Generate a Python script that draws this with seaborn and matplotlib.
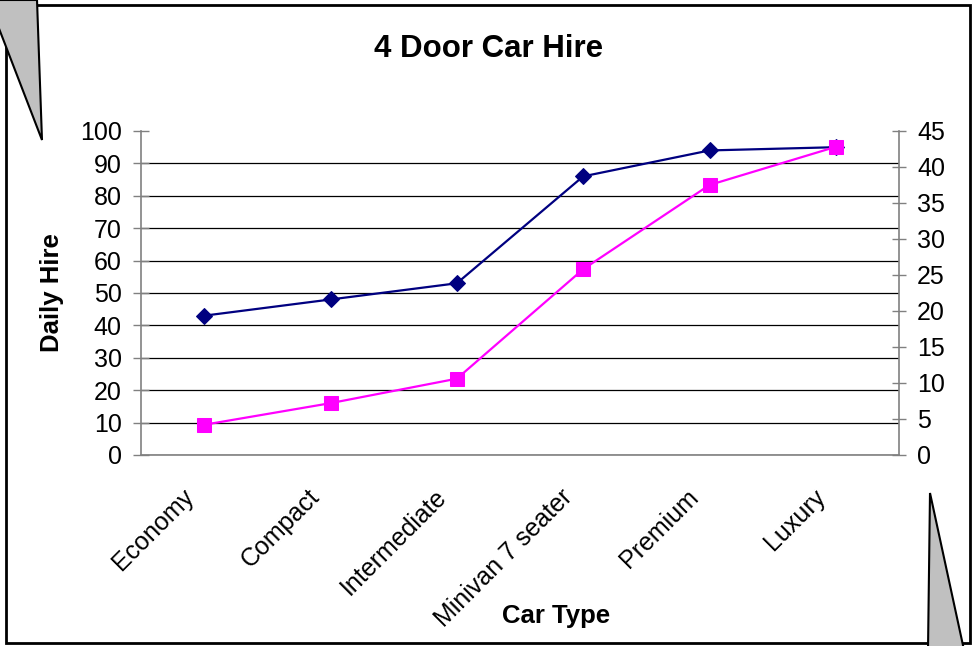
import numpy as np
import seaborn as sns
import matplotlib.pyplot as plt
from matplotlib.patches import Polygon, Rectangle
from matplotlib.transforms import ScaledTranslation

# chart data
car_types = ["Economy", "Compact", "Intermediate", "Minivan 7 seater", "Premium", "Luxury"]
daily_hire = [43, 48, 53, 86, 94, 95]
second_series = [4.2, 7.2, 10.6, 25.8, 37.5, 42.8]
left_ticks = list(range(0, 101, 10))
right_ticks = list(range(0, 46, 5))

sns.set_style("white")
plt.rcParams['font.family'] = ['Liberation Sans', 'DejaVu Sans']
plt.rcParams['text.color'] = 'black'
plt.rcParams['axes.labelcolor'] = 'black'
plt.rcParams['xtick.labelcolor'] = 'black'
plt.rcParams['ytick.labelcolor'] = 'black'

W, H = 973, 646
fig = plt.figure(figsize=(W / 100, H / 100), dpi=100)

def px(x, y):
    # pixel coords (from top-left) -> figure fraction
    return (x / W, 1 - y / H)

ax = fig.add_axes([141 / W, 1 - 455 / H, (899 - 141) / W, (455 - 131) / H])
ax2 = ax.twinx()

pos = np.arange(len(car_types))
sns.lineplot(x=pos, y=daily_hire, ax=ax, color="#000080", marker="D", markersize=8,
             markeredgecolor="#000080", linewidth=1.6, sort=False, zorder=5)
sns.lineplot(x=pos, y=second_series, ax=ax2, color="#FF00FF", marker="s", markersize=10,
             markeredgecolor="#FF00FF", linewidth=1.6, sort=False, zorder=5)

ax.set_xlim(-0.5, len(car_types) - 0.5)
ax.set_ylim(0, 100)
ax2.set_ylim(0, 45)
ax.set_yticks(left_ticks)
ax2.set_yticks(right_ticks)

# gridlines on the left scale, none on the top value
ax.yaxis.grid(True, color="black", linewidth=0.9)
ax.get_ygridlines()[-1].set_visible(False)
ax.set_axisbelow(True)

# category labels at centres, tick marks between categories
ax.set_xticks(pos)
ax.set_xticklabels(car_types, rotation=45, ha="right", rotation_mode="anchor", fontsize=18)
ax.set_xticks(np.arange(-0.5, len(car_types)), minor=True)
ax.tick_params(axis="x", which="major", length=0, pad=14)
ax.tick_params(axis="x", which="minor", direction="out", length=8, width=1, color="#808080")
ax.tick_params(axis="y", direction="inout", length=11, width=1, color="#808080",
               labelsize=18, pad=8.5)
ax2.tick_params(axis="y", direction="inout", length=10, width=1, color="#808080",
                labelsize=18, pad=8)

for a in (ax, ax2):
    a.spines["top"].set_visible(False)
    for s in ("left", "right", "bottom"):
        a.spines[s].set_color("#808080")
        a.spines[s].set_linewidth(1.2)
ax.spines["right"].set_visible(False)
ax2.spines["left"].set_visible(False)
ax2.spines["bottom"].set_visible(False)
ax2.grid(False)

ax.set_ylabel("Daily Hire", fontsize=18.5, fontweight="bold")
ax.yaxis.set_label_coords((64 - 141) / 758, 0.5)
ax.set_xlabel("Car Type", fontsize=18.5, fontweight="bold")
ax.xaxis.set_label_coords((556 - 141) / 758, (455 - 616) / 324)
ax.xaxis.label.set_va("center")

fig.text(*px(489, 57), "4 Door Car Hire", fontsize=22.5, fontweight="bold",
         ha="center", va="baseline")

# outer frame and the two grey callout wedges
fig.patches.append(Rectangle(px(6, 643), (970 - 6) / W, (643 - 5) / H,
                             transform=fig.transFigure, fill=False,
                             edgecolor="black", linewidth=2, zorder=0))
fig.patches.append(Polygon([px(-12, 0), px(37, 0), px(42, 140)], closed=True,
                           transform=fig.transFigure, facecolor="#c0c0c0",
                           edgecolor="black", linewidth=1.5, zorder=10))
fig.patches.append(Polygon([px(930, 493), px(928, 650), px(964, 650)], closed=True,
                           transform=fig.transFigure, facecolor="#c0c0c0",
                           edgecolor="black", linewidth=1.5, zorder=10))

# nudge the rotated category labels left/down like the original
shift = ScaledTranslation(-23 / 100, -10 / 100, fig.dpi_scale_trans)
for lab in ax.get_xticklabels():
    lab.set_transform(lab.get_transform() + shift)

fig.savefig("out.png", dpi=100)
